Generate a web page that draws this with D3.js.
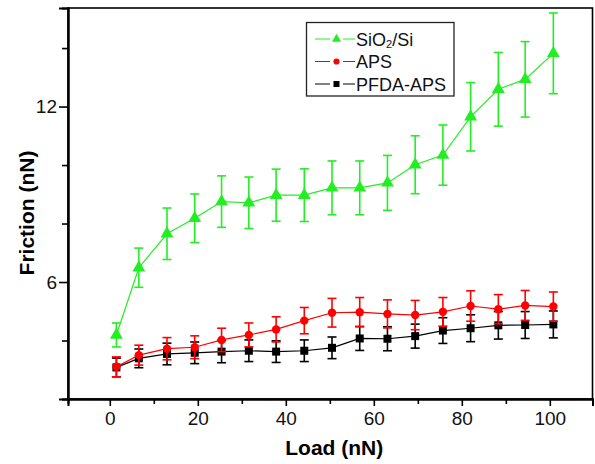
<!DOCTYPE html>
<html><head><meta charset="utf-8">
<script src="https://cdn.jsdelivr.net/npm/d3@7"></script>
<style>
html,body{margin:0;padding:0;background:#fff;}
svg{display:block;font-family:Arial,"Liberation Sans",sans-serif;}
</style></head>
<body><svg id="chart" width="595" height="464"></svg>
<script>
const loads = [1.5, 6.6, 13.0, 19.3, 25.4, 31.6, 37.8, 44.2, 50.5, 56.8, 63.1, 69.4, 75.7, 82.0, 88.3, 94.4, 100.8];
const sio2 = [4.19, 6.49, 7.65, 8.18, 8.75, 8.71, 8.97, 8.97, 9.22, 9.22, 9.39, 10.01, 10.34, 11.65, 12.59, 12.93, 13.82];
const sio2Err = [0.41, 0.67, 0.88, 0.83, 0.88, 0.88, 0.89, 0.9, 0.92, 0.92, 0.94, 0.99, 1.03, 1.17, 1.26, 1.29, 1.38];
const aps = [3.10, 3.50, 3.72, 3.77, 4.02, 4.19, 4.38, 4.68, 4.95, 4.97, 4.91, 4.87, 4.98, 5.18, 5.07, 5.20, 5.16];
const apsErr = [0.34, 0.34, 0.38, 0.39, 0.40, 0.41, 0.43, 0.45, 0.49, 0.50, 0.48, 0.50, 0.49, 0.52, 0.50, 0.51, 0.50];
const pfda = [3.08, 3.39, 3.54, 3.58, 3.62, 3.65, 3.62, 3.65, 3.75, 4.07, 4.06, 4.15, 4.34, 4.42, 4.52, 4.53, 4.55];
const pfdaErr = [0.32, 0.32, 0.37, 0.37, 0.38, 0.37, 0.37, 0.37, 0.37, 0.41, 0.41, 0.41, 0.44, 0.46, 0.47, 0.46, 0.46];
const seriesNames = ["SiO2/Si", "APS", "PFDA-APS"];
const xMajorTicks = [0, 20, 40, 60, 80, 100];
const xMinorTicks = [10, 30, 50, 70, 90];
const yMajorTicks = [6, 12];
const yMinorTicks = [2, 4, 8, 10, 14];

const svg = d3.select("#chart");
const L = 68, T = 8, R = 592.5, B = 399;
const x = d3.scaleLinear().domain([-9.5, 109.7]).range([L, R]);
const y = d3.scaleLinear().domain([2, 15.37]).range([B, T]);

// frame
svg.append("rect").attr("x", L).attr("y", T).attr("width", R - L).attr("height", B - T)
  .attr("fill", "none").attr("stroke", "#000").attr("stroke-width", 1.6);

// axes
const xAxisMajor = d3.axisBottom(x).tickValues(xMajorTicks).tickSize(7).tickPadding(6).tickFormat(d3.format("d"));
const xAxisMinor = d3.axisBottom(x).tickValues(xMinorTicks).tickSize(5).tickFormat("");
const yAxisMajor = d3.axisLeft(y).tickValues(yMajorTicks).tickSize(9).tickPadding(2).tickFormat(d3.format("d"));
const yAxisMinor = d3.axisLeft(y).tickValues(yMinorTicks).tickSize(6).tickFormat("");

function styleAxis(g) {
  g.select(".domain").attr("stroke-width", 2);
  g.selectAll(".tick line").attr("stroke-width", 1.6);
  g.selectAll("text").attr("font-size", 19).attr("fill", "#111")
    .attr("font-family", 'Arial,"Liberation Sans",sans-serif');
}
svg.append("g").attr("transform", `translate(0,${B})`).call(xAxisMajor).call(styleAxis);
svg.append("g").attr("transform", `translate(0,${B})`).call(xAxisMinor).call(styleAxis);
svg.append("g").attr("transform", `translate(${L},0)`).call(yAxisMajor).call(styleAxis);
svg.append("g").attr("transform", `translate(${L},0)`).call(yAxisMinor).call(styleAxis);

// axis titles
svg.append("text").attr("x", (L + R) / 2 + 4).attr("y", 455).attr("text-anchor", "middle")
  .attr("font-size", 21).attr("font-weight", "bold").text("Load (nN)");
svg.append("text").attr("transform", `translate(34,${213}) rotate(-90)`).attr("text-anchor", "middle")
  .attr("font-size", 21).attr("font-weight", "bold").text("Friction (nN)");

const series = [
  {name: seriesNames[2], vals: pfda, err: pfdaErr, color: "#000000", sym: d3.symbolSquare, size: 64, lsize: 36},
  {name: seriesNames[1], vals: aps, err: apsErr, color: "#ff0000", sym: d3.symbolCircle, size: 56, lsize: 30},
  {name: seriesNames[0], vals: sio2, err: sio2Err, color: "#22ee22", sym: d3.symbolTriangle, size: 72, lsize: 36}
];

const line = d3.line().x(d => x(d[0])).y(d => y(d[1]));
const cap = 4.5;
series.forEach(s => {
  const pts = loads.map((l, i) => [l, s.vals[i], s.err[i]]);
  const g = svg.append("g");
  g.append("path").datum(pts).attr("d", line).attr("fill", "none").attr("stroke", s.color).attr("stroke-width", 1.2);
  const eb = g.selectAll("g.eb").data(pts).join("g");
  eb.append("line").attr("x1", d => x(d[0])).attr("x2", d => x(d[0]))
    .attr("y1", d => y(d[1] - d[2])).attr("y2", d => y(d[1] + d[2]))
    .attr("stroke", s.color).attr("stroke-width", 1.6);
  [1, -1].forEach(sg => {
    eb.append("line").attr("x1", d => x(d[0]) - cap).attr("x2", d => x(d[0]) + cap)
      .attr("y1", d => y(d[1] + sg * d[2])).attr("y2", d => y(d[1] + sg * d[2]))
      .attr("stroke", s.color).attr("stroke-width", 1.6);
  });
  g.selectAll("path.m").data(pts).join("path").attr("class", "m")
    .attr("transform", d => `translate(${x(d[0])},${y(d[1])})`)
    .attr("d", d3.symbol(s.sym, s.size)).attr("fill", s.color);
});

// legend
const lg = svg.append("g");
lg.append("rect").attr("x", 306.5).attr("y", 22.5).attr("width", 147.5).attr("height", 73.5)
  .attr("fill", "#fff").attr("stroke", "#222").attr("stroke-width", 1.3);
const legendOrder = [series[2], series[1], series[0]];
const rowsY = [39, 61.5, 84];
legendOrder.forEach((s, i) => {
  const yy = rowsY[i];
  lg.append("line").attr("x1", 315).attr("x2", 330).attr("y1", yy).attr("y2", yy).attr("stroke", s.color).attr("stroke-width", 1);
  lg.append("line").attr("x1", 343).attr("x2", 355).attr("y1", yy).attr("y2", yy).attr("stroke", s.color).attr("stroke-width", 1);
  lg.append("path").attr("transform", `translate(336.5,${yy})`).attr("d", d3.symbol(s.sym, s.lsize)).attr("fill", s.color);
  const t = lg.append("text").attr("x", 356).attr("y", yy + 6.5).attr("font-size", 18).attr("fill", "#111");
  if (s.name === "SiO2/Si") {
    t.append("tspan").text("SiO");
    t.append("tspan").attr("font-size", 11).attr("dy", 2).text("2");
    t.append("tspan").attr("dy", -2).text("/Si");
  } else {
    t.text(s.name);
  }
});
</script>
</body></html>
